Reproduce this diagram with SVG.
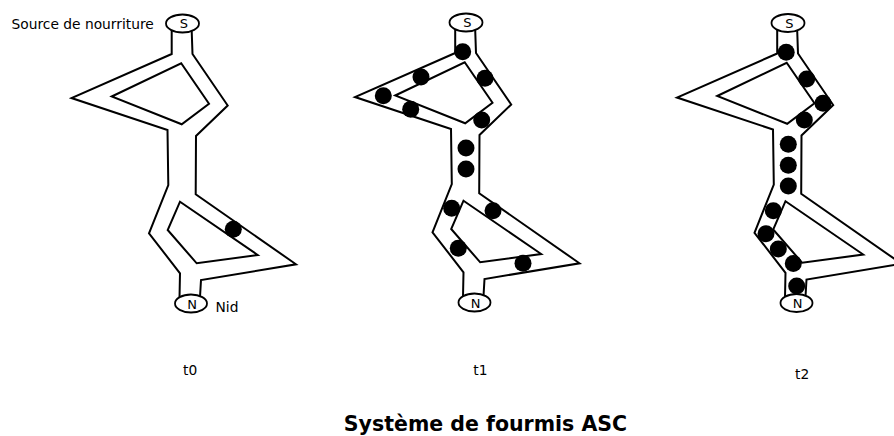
<svg xmlns="http://www.w3.org/2000/svg" xmlns:xlink="http://www.w3.org/1999/xlink" width="894" height="436" viewBox="0 0 894 436">
  <style>
    .wall { fill: none; stroke: #000; stroke-width: 2; stroke-linejoin: miter; stroke-linecap: butt; }
    .end { fill: #fff; stroke: #000; stroke-width: 1.8; }
    .ant { fill: #000; }
    .lbl { font-family: "DejaVu Sans", "Liberation Sans", sans-serif; font-size: 13.8px; fill: #000; }
    .tag { font-family: "DejaVu Sans", "Liberation Sans", sans-serif; font-size: 13px; fill: #000; text-anchor: middle; }
    .title { font-family: "DejaVu Sans", "Liberation Sans", sans-serif; font-size: 20.5px; font-weight: bold; fill: #000; text-anchor: middle; }
  </style>
  <defs>
    <!-- Track network between food source (S) and nest (N) -->
    <g id="track">
      <polyline class="wall" points="171.7,30.5 171.7,54 71.5,98 167.5,130 168.3,185 149,233.3 180,273.3 179.5,298"/>
      <polyline class="wall" points="191.7,31 192.5,54 227.7,105.5 196,136 195.7,194.3 296,264.3 201,280 200,297"/>
      <polygon class="wall" points="111.7,96.5 181.2,63.3 209,103.8 181.7,124.3"/>
      <polygon class="wall" points="180,201.7 257.7,255 196.7,263.3 167.7,230"/>
      <ellipse class="end" cx="182.5" cy="23.5" rx="16.5" ry="9"/>
      <text class="tag" x="184" y="28">S</text>
      <ellipse class="end" cx="191" cy="303.5" rx="16" ry="9"/>
      <text class="tag" x="192" y="308.5">N</text>
    </g>
  </defs>

  <!-- t0 -->
  <g id="panel-t0">
    <use xlink:href="#track"/>
    <text class="lbl" x="11.5" y="28.5">Source de nourriture</text>
    <text class="lbl" x="215.5" y="311.5">Nid</text>
    <circle class="ant" cx="233.3" cy="229.3" r="8.5"/>
    <text class="lbl" x="183" y="375">t0</text>
  </g>

  <!-- t1 -->
  <g id="panel-t1">
    <use xlink:href="#track" transform="translate(283.5,-1)"/>
    <g class="ant">
      <circle cx="462.7" cy="51.7" r="8.5"/>
      <circle cx="485" cy="78.3" r="8.5"/>
      <circle cx="421" cy="77" r="8.5"/>
      <circle cx="383.3" cy="95.7" r="8.5"/>
      <circle cx="410.7" cy="109.3" r="8.5"/>
      <circle cx="481.7" cy="120" r="8.5"/>
      <circle cx="466" cy="148" r="8.5"/>
      <circle cx="466" cy="169" r="8.5"/>
      <circle cx="451.7" cy="208.3" r="8.5"/>
      <circle cx="493" cy="210.7" r="8.5"/>
      <circle cx="458.3" cy="248.3" r="8.5"/>
      <circle cx="523" cy="263.3" r="8.5"/>
    </g>
    <text class="lbl" x="473.3" y="375">t1</text>
  </g>

  <!-- t2 -->
  <g id="panel-t2">
    <use xlink:href="#track" transform="translate(605.5,-0.5)"/>
    <g class="ant">
      <circle cx="786.2" cy="52.3" r="8.5"/>
      <circle cx="806.7" cy="79" r="8.5"/>
      <circle cx="823" cy="103.3" r="8.5"/>
      <circle cx="804.3" cy="120" r="8.5"/>
      <circle cx="788.3" cy="144.3" r="8.5"/>
      <circle cx="788.3" cy="165.3" r="8.5"/>
      <circle cx="788.3" cy="186" r="8.5"/>
      <circle cx="773.3" cy="210.7" r="8.5"/>
      <circle cx="766" cy="233.7" r="8.5"/>
      <circle cx="778.3" cy="249" r="8.5"/>
      <circle cx="793.3" cy="263.5" r="8.5"/>
      <circle cx="796.7" cy="286" r="8.5"/>
    </g>
    <text class="lbl" x="795" y="379">t2</text>
  </g>

  <text class="title" x="485.5" y="430.5">Système de fourmis ASC</text>
</svg>
